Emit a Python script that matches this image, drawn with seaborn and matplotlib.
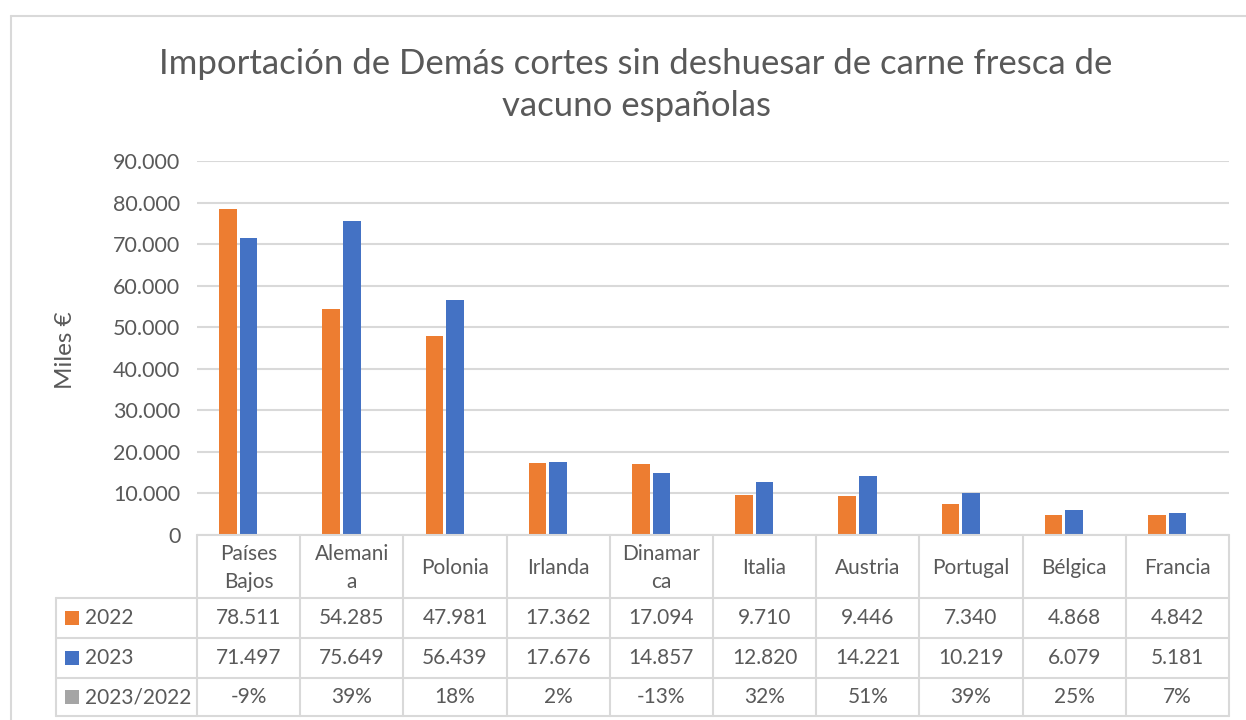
import matplotlib
matplotlib.use("Agg")
import matplotlib.pyplot as plt
from matplotlib.lines import Line2D
from matplotlib.patches import Rectangle
import pandas as pd
import seaborn as sns

# datos
paises = ["Países Bajos", "Alemania", "Polonia", "Irlanda", "Dinamarca",
          "Italia", "Austria", "Portugal", "Bélgica", "Francia"]
etiquetas = ["Países\nBajos", "Alemani\na", "Polonia", "Irlanda", "Dinamar\nca",
             "Italia", "Austria", "Portugal", "Bélgica", "Francia"]
v2022 = [78511, 54285, 47981, 17362, 17094, 9710, 9446, 7340, 4868, 4842]
v2023 = [71497, 75649, 56439, 17676, 14857, 12820, 14221, 10219, 6079, 5181]
variacion = [-9, 39, 18, 2, -13, 32, 51, 39, 25, 7]  # %
series = ["2022", "2023", "2023/2022"]
colores = ["#ED7D31", "#4472C4", "#A5A5A5"]

df = pd.DataFrame({
    "pais": paises * 3,
    "serie": [series[0]] * 10 + [series[1]] * 10 + [series[2]] * 10,
    "valor": v2022 + v2023 + [v / 100 for v in variacion],
})

sns.set_style("white")
plt.rcParams["font.family"] = ["Lato", "DejaVu Sans"]
gris_txt = "#595959"
gris_lin = "#D9D9D9"

W, H = 1246, 720
fig = plt.figure(figsize=(W / 100, H / 100), dpi=100)

def fx(x):
    return x / W

def fy(y):
    return 1 - y / H

x0, x1, ytop, y0 = 197, 1229, 161, 535
ax = fig.add_axes([fx(x0), fy(y0), fx(x1 - x0), (y0 - ytop) / H])
sns.barplot(data=df, x="pais", y="valor", hue="serie", palette=colores,
            saturation=1, width=0.6, gap=0.15, linewidth=0, legend=False, ax=ax)
ax.set_xlim(-0.5, 9.5)
ax.set_ylim(0, 90000)
ax.set_yticks(range(0, 90001, 10000))
ax.set_yticklabels([f"{t:,}".replace(",", ".") for t in range(0, 90001, 10000)],
                   fontsize=15.5, color=gris_txt)
ax.tick_params(axis="y", length=0, pad=12)
ax.set_xticks([])
ax.set_xlabel("")
ax.set_ylabel("")
ax.grid(axis="y", color=gris_lin, lw=1.5)
ax.set_axisbelow(True)
for s in ax.spines.values():
    s.set_visible(False)

fig.text(fx(65), fy(350), "Miles €", rotation=90, fontsize=17.5, color=gris_txt,
         ha="center", va="center")
fig.text(fx(636), fy(85), "Importación de Demás cortes sin deshuesar de carne fresca de\nvacuno españolas",
         ha="center", va="center", fontsize=25, color=gris_txt, linespacing=1.4)

# marco exterior
fig.add_artist(Line2D([fx(11), fx(11)], [fy(16), fy(725)], color=gris_lin, lw=1.5))
fig.add_artist(Line2D([fx(11), fx(1250)], [fy(16), fy(16)], color=gris_lin, lw=1.5))

# tabla de datos
filas = [535, 598, 638, 678, 716]
xl = 56
cw = (x1 - x0) / 10
cols = [x0 + i * cw for i in range(11)]
lw = 1.5
fig.add_artist(Line2D([fx(x0), fx(x1)], [fy(filas[0])] * 2, color=gris_lin, lw=lw))
for yy in filas[1:]:
    fig.add_artist(Line2D([fx(xl), fx(x1)], [fy(yy)] * 2, color=gris_lin, lw=lw))
fig.add_artist(Line2D([fx(xl)] * 2, [fy(filas[1]), fy(filas[-1])], color=gris_lin, lw=lw))
for cx in cols:
    fig.add_artist(Line2D([fx(cx)] * 2, [fy(filas[0]), fy(filas[-1])], color=gris_lin, lw=lw))

for i, lab in enumerate(etiquetas):
    cx = cols[i] + cw / 2
    fig.text(fx(cx), fy((filas[0] + filas[1]) / 2 + 1), lab, ha="center", va="center",
             fontsize=15, color=gris_txt, linespacing=1.5)
    textos = [f"{v2022[i]:,}".replace(",", "."), f"{v2023[i]:,}".replace(",", "."),
              f"{variacion[i]}%"]
    for r in range(3):
        fig.text(fx(cx), fy((filas[r + 1] + filas[r + 2]) / 2), textos[r],
                 ha="center", va="center", fontsize=15, color=gris_txt)

for r in range(3):
    yc = (filas[r + 1] + filas[r + 2]) / 2
    fig.add_artist(Rectangle((fx(65), fy(yc + 7)), fx(14), 14 / H,
                             color=colores[r], lw=0))
    fig.text(fx(85), fy(yc), series[r], ha="left", va="center",
             fontsize=15, color=gris_txt)

fig.savefig("out.png", dpi=100)
